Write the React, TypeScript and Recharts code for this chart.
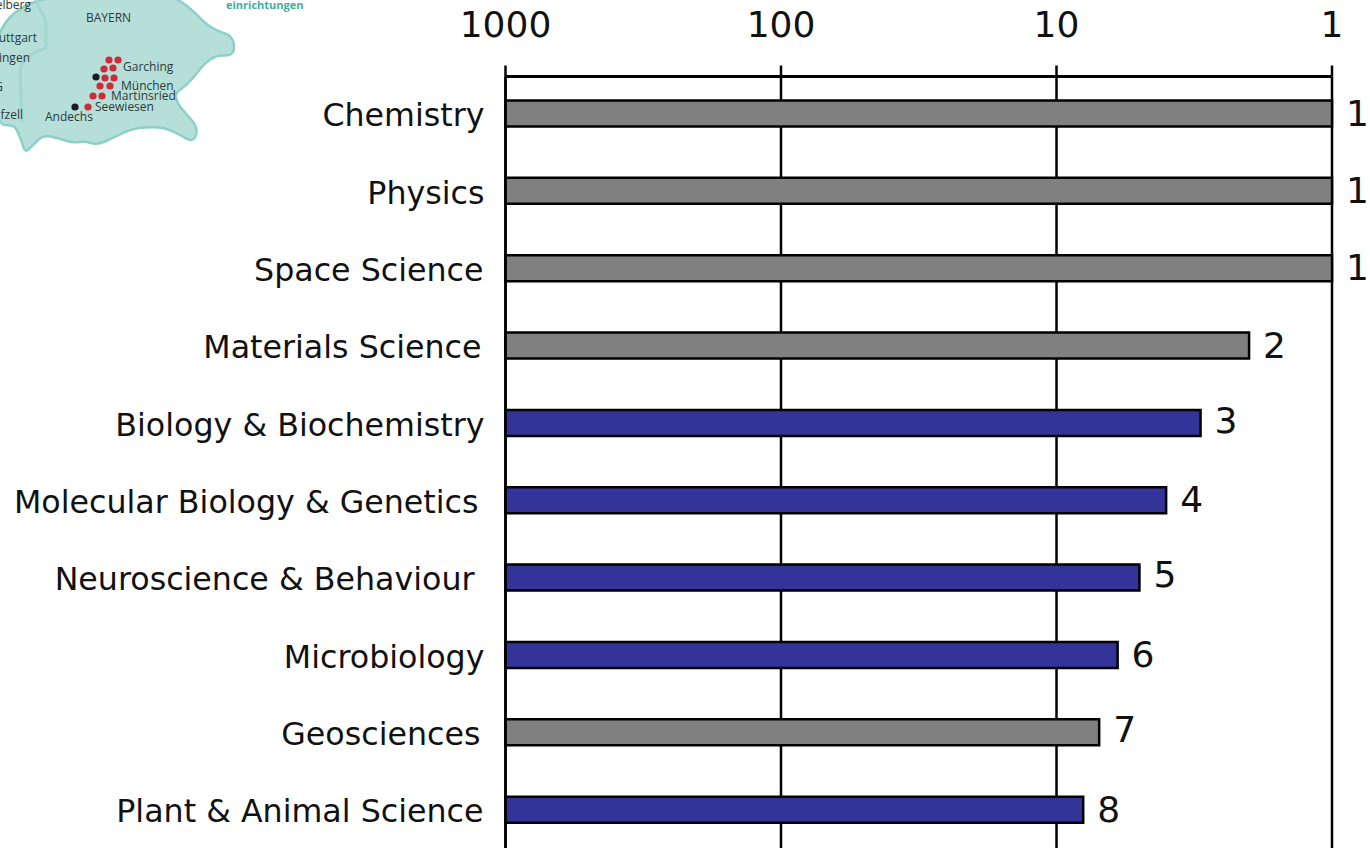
import { BarChart, Bar, Cell, XAxis, YAxis, CartesianGrid, LabelList } from 'recharts';

const categories = [
  'Chemistry',
  'Physics',
  'Space Science',
  'Materials Science',
  'Biology & Biochemistry',
  'Molecular Biology & Genetics',
  'Neuroscience & Behaviour',
  'Microbiology',
  'Geosciences',
  'Plant & Animal Science',
];
const ranks = [1, 1, 1, 2, 3, 4, 5, 6, 7, 8];
const fields = ['phys', 'phys', 'phys', 'phys', 'bio', 'bio', 'bio', 'bio', 'phys', 'bio'];
const axisTicks = [1000, 100, 10, 1];

const GREY = '#808080';
const BLUE = '#333399';
const FONT = '"DejaVu Sans", Verdana, sans-serif';

const chartData = categories.map((name, i) => ({ name, rank: ranks[i], field: fields[i] }));

// the source slide has trailing spaces on some labels
const tickShift: Record<string, number> = {
  'Space Science': -1,
  'Materials Science': -3,
  'Molecular Biology & Genetics': -6,
  'Neuroscience & Behaviour': -10,
  Geosciences: -4,
  'Plant & Animal Science': -1,
};

// hand-placed on the slide, a few sit slightly high
const rankLift: Record<number, number> = { 3: 2, 5: 3, 7: 2 };

const CategoryTick = ({ x, y, payload }: any) => (
  <text
    x={x - 13 + (tickShift[payload.value] ?? 0)}
    y={y + 13}
    textAnchor="end"
    fontFamily={FONT}
    fontSize={31.7}
    fill="#111"
  >
    {payload.value}
  </text>
);

const RankLabel = ({ x, y, width, height, index }: any) => (
  <text
    x={Math.max(x, x + width) + 14}
    y={y + height / 2 + 12 - (rankLift[ranks[index]] ?? 0)}
    fontFamily={FONT}
    fontSize={36}
    fill="#111"
  >
    {ranks[index]}
  </text>
);

const redDots = [
  [109, 60], [118, 60], [104, 69], [113, 68], [105, 78], [114, 78],
  [100, 86], [110, 86], [93, 96], [102, 96], [88, 107],
];
const blackDots = [[96, 77], [75, 107]];
const mapLabels: [string, number, number, 'start' | 'end'][] = [
  ['BAYERN', 86, 22, 'start'],
  ['Garching', 123, 71, 'start'],
  ['München', 121, 90, 'start'],
  ['Martinsried', 111, 100, 'start'],
  ['Seewiesen', 95, 111, 'start'],
  ['Andechs', 45, 121, 'start'],
  ['elberg', 31, 9, 'end'],
  ['uttgart', 37, 42, 'end'],
  ['ingen', 30, 62, 'end'],
  ['G', 3, 91, 'end'],
  ['fzell', 23, 119, 'end'],
];
const mapOutline = [
  [-5, -5], [170, -5], [180, 1], [190, 8], [200, 18], [207, 25], [220, 32], [230, 35], [235, 45],
  [232, 56], [217, 55], [205, 63], [197, 73], [187, 85], [175, 93], [177, 103], [187, 115],
  [197, 126], [196, 138], [190, 141], [180, 135], [168, 129], [157, 127], [133, 128], [113, 138],
  [97, 145], [85, 141], [73, 143], [58, 138], [43, 135], [33, 145], [25, 153], [22, 142], [17, 130],
  [13, 125], [-5, 125],
];

// rounded outline through the midpoints of the traced points
const smoothPath = (pts: number[][]) => {
  const mid = (a: number[], b: number[]) => `${(a[0] + b[0]) / 2} ${(a[1] + b[1]) / 2}`;
  let d = `M${mid(pts[pts.length - 1], pts[0])}`;
  pts.forEach((p, i) => {
    d += ` Q${p[0]} ${p[1]} ${mid(p, pts[(i + 1) % pts.length])}`;
  });
  return d + ' Z';
};

const MapCorner = () => (
  <svg width={320} height={160} style={{ position: 'absolute', left: 0, top: 0 }}>
    <path
      d={smoothPath(mapOutline)}
      fill="#b6dfd9"
      stroke="#8dd0c7"
      strokeWidth={2.5}
      strokeLinejoin="round"
    />
    <path
      d="M35 -5 C36 8 46 14 46 24 L46 48 C34 52 22 58 20 70 L22 122"
      fill="none"
      stroke="#a3d6cf"
      strokeWidth={3}
    />
    {redDots.map(([cx, cy], i) => (
      <circle key={i} cx={cx} cy={cy} r={3.6} fill="#cf2a38" />
    ))}
    {blackDots.map(([cx, cy], i) => (
      <circle key={i} cx={cx} cy={cy} r={3.6} fill="#1c1c1c" />
    ))}
    {mapLabels.map(([label, x, y, anchor]) => (
      <text
        key={label}
        x={x}
        y={y}
        textAnchor={anchor}
        fontFamily='"Open Sans", sans-serif'
        fontSize={12}
        fill="#2c3a3a"
      >
        {label}
      </text>
    ))}
    <text x={226} y={9} fontFamily='"Open Sans", sans-serif' fontSize={11} fontWeight={700} fill="#3fae9f">
      einrichtungen
    </text>
  </svg>
);

export default function App() {
  return (
    <div style={{ position: 'absolute', left: 0, top: 0, width: 1370, height: 848, overflow: 'hidden' }}>
      <MapCorner />
      <div style={{ position: 'absolute', left: 0, top: 0 }}>
        <BarChart
          width={1370}
          height={848}
          data={chartData}
          layout="vertical"
          barSize={26}
          margin={{ top: 0, right: 38, bottom: 0, left: 0 }}
        >
          <CartesianGrid horizontal={false} stroke="#000" strokeWidth={2.5} />
          <XAxis
            type="number"
            orientation="top"
            scale="log"
            domain={[1, 1000]}
            reversed
            ticks={axisTicks}
            interval={0}
            height={76.5}
            tickSize={11}
            tickMargin={29}
            axisLine={{ stroke: '#000', strokeWidth: 3 }}
            tickLine={{ stroke: '#000', strokeWidth: 2.5 }}
            tick={{ fontSize: 36, fontFamily: FONT, fill: '#111' }}
          />
          <YAxis
            type="category"
            dataKey="name"
            width={505.5}
            interval={0}
            padding={{ top: -2, bottom: 0 }}
            tickLine={false}
            axisLine={{ stroke: '#000', strokeWidth: 2.5 }}
            tick={<CategoryTick />}
          />
          <Bar
            dataKey={(d: any) => [d.rank, 1000]}
            stroke="#000"
            strokeWidth={2.5}
            isAnimationActive={false}
          >
            {chartData.map((d) => (
              <Cell key={d.name} fill={d.field === 'bio' ? BLUE : GREY} />
            ))}
            <LabelList content={<RankLabel />} />
          </Bar>
        </BarChart>
      </div>
    </div>
  );
}
